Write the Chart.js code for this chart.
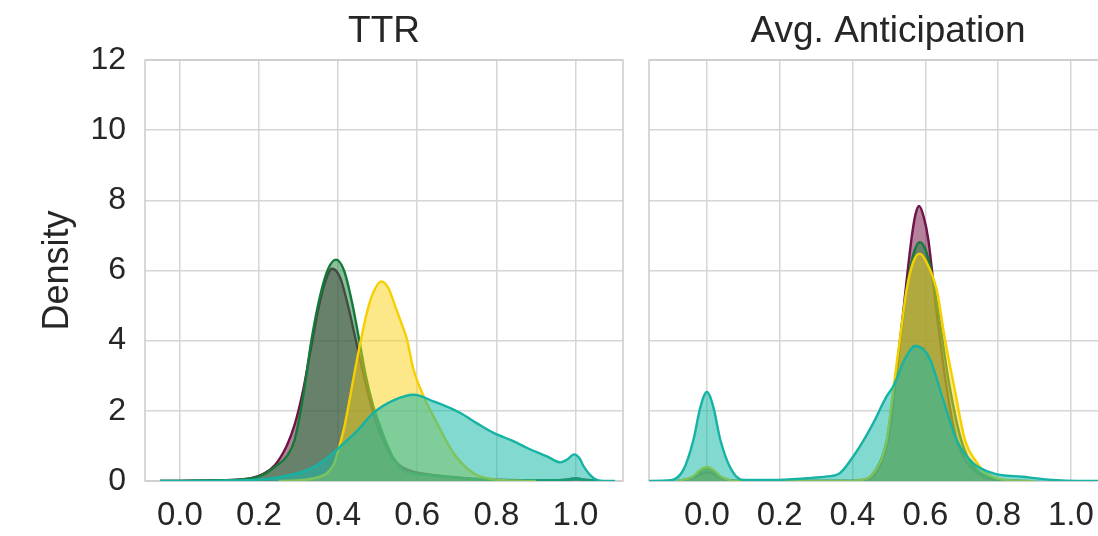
<!DOCTYPE html>
<html>
<head>
<meta charset="utf-8">
<script src="https://cdn.jsdelivr.net/npm/chart.js@4.4.0/dist/chart.umd.min.js"></script>
<style>
  html, body { margin: 0; padding: 0; background: #fff; overflow: hidden; width: 1098px; height: 536px; }
  #panel-ttr { position: absolute; left: 0; top: 0; width: 640px; height: 536px; }
  #panel-ant { position: absolute; left: 640px; top: 0; width: 500px; height: 536px; }
</style>
</head>
<body>
<div id="panel-ttr"><canvas id="chartTTR"></canvas></div>
<div id="panel-ant"><canvas id="chartAnt"></canvas></div>
<script>
// ============================================================================
// Curvas de densidad (KDE): TTR y Avg. Anticipation
// ============================================================================

const titulos = ["TTR", "Avg. Anticipation"];
const ticksX = [0.0, 0.2, 0.4, 0.6, 0.8, 1.0];
const ticksY = [0, 2, 4, 6, 8, 10, 12];

// --- Panel TTR ---
const ttrX_morado = [-0.05, 0.10, 0.18, 0.21, 0.24, 0.27, 0.29, 0.31, 0.33, 0.35, 0.365, 0.385, 0.405, 0.425, 0.445, 0.465, 0.485, 0.505, 0.525, 0.55, 0.58, 0.62, 0.68, 0.76, 0.90, 0.97, 1.00, 1.03, 1.06];
const ttrY_morado = [0.00, 0.02, 0.08, 0.20, 0.45, 1.0, 1.6, 2.5, 3.7, 4.9, 5.6, 6.05, 5.8, 5.0, 4.0, 3.0, 2.1, 1.4, 0.9, 0.5, 0.3, 0.2, 0.12, 0.05, 0.02, 0.03, 0.07, 0.03, 0.00];

const ttrX_verde = [-0.05, 0.10, 0.18, 0.21, 0.24, 0.27, 0.29, 0.31, 0.333, 0.355, 0.375, 0.395, 0.415, 0.435, 0.453, 0.47, 0.489, 0.505, 0.519, 0.54, 0.565, 0.60, 0.65, 0.72, 0.80, 0.90, 0.97, 1.00, 1.03, 1.06];
const ttrY_verde = [0.00, 0.02, 0.07, 0.18, 0.40, 0.70, 1.17, 2.3, 4.04, 5.3, 6.05, 6.31, 6.0, 5.1, 4.04, 3.0, 2.13, 1.6, 1.17, 0.65, 0.31, 0.2, 0.15, 0.07, 0.03, 0.02, 0.03, 0.07, 0.03, 0.00];

const ttrX_amarillo = [0.25, 0.30, 0.34, 0.371, 0.39, 0.403, 0.415, 0.426, 0.44, 0.458, 0.475, 0.49, 0.509, 0.527, 0.544, 0.56, 0.574, 0.59, 0.616, 0.65, 0.692, 0.742, 0.78, 0.82, 0.90];
const ttrY_amarillo = [0.00, 0.02, 0.08, 0.22, 0.5, 0.98, 1.5, 2.13, 3.0, 4.04, 4.9, 5.4, 5.69, 5.5, 4.99, 4.5, 4.04, 3.2, 2.42, 1.65, 0.79, 0.22, 0.07, 0.02, 0.00];

const ttrX_turquesa = [-0.05, 0.10, 0.18, 0.236, 0.28, 0.321, 0.36, 0.405, 0.45, 0.489, 0.54, 0.591, 0.641, 0.709, 0.75, 0.793, 0.84, 0.878, 0.928, 0.962, 0.98, 0.996, 1.01, 1.021, 1.046, 1.07, 1.10];
const ttrY_turquesa = [0.00, 0.01, 0.03, 0.08, 0.17, 0.31, 0.55, 0.98, 1.45, 1.94, 2.3, 2.46, 2.27, 1.94, 1.65, 1.37, 1.15, 0.94, 0.70, 0.53, 0.62, 0.76, 0.65, 0.41, 0.08, 0.00, 0.00];

// --- Panel Avg. Anticipation ---
const antX_morado = [-0.08, -0.04, -0.02, 0.0, 0.02, 0.04, 0.08, 0.40, 0.43, 0.465, 0.50, 0.52, 0.538, 0.562, 0.573, 0.583, 0.595, 0.608, 0.63, 0.655, 0.685, 0.71, 0.74, 0.79, 0.86];
const antY_morado = [0.00, 0.08, 0.18, 0.25, 0.18, 0.08, 0.00, 0.00, 0.02, 0.25, 1.3, 3.0, 4.7, 6.9, 7.6, 7.84, 7.55, 6.9, 4.9, 2.9, 1.2, 0.6, 0.25, 0.03, 0.00];

const antX_verde = [-0.08, -0.04, -0.02, 0.0, 0.02, 0.04, 0.08, 0.39, 0.43, 0.46, 0.495, 0.515, 0.533, 0.552, 0.57, 0.585, 0.602, 0.62, 0.64, 0.665, 0.695, 0.72, 0.75, 0.80, 0.88];
const antY_verde = [0.00, 0.10, 0.25, 0.35, 0.25, 0.10, 0.00, 0.00, 0.03, 0.25, 1.2, 2.7, 4.2, 5.7, 6.55, 6.81, 6.55, 5.8, 4.5, 2.8, 1.3, 0.6, 0.25, 0.03, 0.00];

const antX_amarillo = [-0.08, -0.04, -0.02, 0.0, 0.02, 0.04, 0.08, 0.38, 0.42, 0.457, 0.494, 0.512, 0.53, 0.549, 0.567, 0.585, 0.605, 0.631, 0.654, 0.681, 0.709, 0.74, 0.768, 0.82, 0.90];
const antY_amarillo = [0.00, 0.12, 0.30, 0.40, 0.30, 0.12, 0.00, 0.00, 0.03, 0.22, 1.17, 2.6, 4.04, 5.47, 6.25, 6.48, 6.2, 5.47, 4.04, 2.6, 1.17, 0.55, 0.22, 0.03, 0.00];

const antX_turquesa = [-0.16, -0.10, -0.065, -0.037, -0.018, 0.0, 0.018, 0.037, 0.068, 0.10, 0.18, 0.274, 0.33, 0.365, 0.402, 0.43, 0.457, 0.494, 0.512, 0.545, 0.572, 0.595, 0.613, 0.649, 0.686, 0.732, 0.787, 0.868, 0.95, 1.02, 1.15];
const antY_turquesa = [0.00, 0.02, 0.31, 1.17, 2.1, 2.54, 2.1, 1.17, 0.31, 0.03, 0.03, 0.08, 0.13, 0.22, 0.70, 1.15, 1.65, 2.42, 2.7, 3.5, 3.85, 3.75, 3.47, 2.32, 1.17, 0.5, 0.22, 0.12, 0.03, 0.00, 0.00];

// Colores (línea y relleno) por serie
const colores = {
  morado:   { linea: "#6e1446", relleno: "rgba(120, 25, 75, 0.55)", orden: 4 },
  verde:    { linea: "#137a3a", relleno: "rgba(25, 130, 60, 0.5)", orden: 3 },
  amarillo: { linea: "#f7cf00", relleno: "rgba(250, 210, 20, 0.5)", orden: 2 },
  turquesa: { linea: "#16b3a3", relleno: "rgba(25, 185, 170, 0.55)", orden: 1 }
};

const fuente = "'Liberation Sans', Arial, sans-serif";
const colorTexto = "#262626";
const colorGrilla = "#d6d6d6";

function armarSerie(xs, ys, nombre) {
  const c = colores[nombre];
  return {
    label: nombre,
    data: xs.map((x, i) => ({ x: x, y: ys[i] })),
    borderColor: c.linea,
    backgroundColor: c.relleno,
    fill: "origin",
    borderWidth: 2.4,
    pointRadius: 0,
    cubicInterpolationMode: "monotone",
    order: c.orden
  };
}

// Plugin: marco del área y título de cada panel centrado sobre el área
const pluginPanel = {
  id: "pluginPanel",
  beforeDatasetsDraw(chart) {
    const { ctx, chartArea } = chart;
    ctx.save();
    ctx.strokeStyle = "#cccccc";
    ctx.lineWidth = 1.5;
    ctx.strokeRect(chartArea.left, chartArea.top, chartArea.right - chartArea.left, chartArea.bottom - chartArea.top);
    ctx.restore();
  },
  afterDraw(chart, args, opts) {
    const { ctx, chartArea } = chart;
    ctx.save();
    ctx.font = "37px " + fuente;
    ctx.fillStyle = colorTexto;
    ctx.textAlign = "center";
    ctx.textBaseline = "middle";
    ctx.fillText(opts.texto, (chartArea.left + chartArea.right) / 2, 32);
    ctx.restore();
  }
};

function opcionesPanel(minX, maxX, conEjeY, texto) {
  return {
    responsive: true,
    maintainAspectRatio: false,
    animation: false,
    layout: { padding: { top: 60, left: conEjeY ? 0 : 9, right: conEjeY ? 17 : 13, bottom: 0 } },
    plugins: {
      legend: { display: false },
      tooltip: { enabled: false },
      pluginPanel: { texto: texto }
    },
    scales: {
      x: {
        type: "linear",
        min: minX,
        max: maxX,
        afterFit: (s) => { s.height = 55; },
        afterBuildTicks: (s) => { s.ticks = ticksX.map((v) => ({ value: v })); },
        ticks: {
          includeBounds: false,
          callback: (v) => Number(v).toFixed(1),
          font: { family: fuente, size: 33 },
          color: colorTexto,
          padding: 15,
          maxRotation: 0,
          autoSkip: false
        },
        grid: { color: colorGrilla, lineWidth: 1.5, drawTicks: false },
        border: { display: false }
      },
      y: {
        min: 0,
        max: 12,
        afterFit: (s) => { s.width = conEjeY ? 145 : 0; },
        afterBuildTicks: (s) => { s.ticks = ticksY.map((v) => ({ value: v })); },
        ticks: {
          display: conEjeY,
          font: { family: fuente, size: 32 },
          color: colorTexto,
          padding: 19
        },
        title: {
          display: conEjeY,
          text: "Density",
          font: { family: fuente, size: 36 },
          color: colorTexto,
          padding: { top: 36, bottom: 0 }
        },
        grid: { color: colorGrilla, lineWidth: 1.5, drawTicks: false },
        border: { display: false }
      }
    }
  };
}

new Chart(document.getElementById("chartTTR").getContext("2d"), {
  type: "line",
  data: {
    datasets: [
      armarSerie(ttrX_morado, ttrY_morado, "morado"),
      armarSerie(ttrX_verde, ttrY_verde, "verde"),
      armarSerie(ttrX_amarillo, ttrY_amarillo, "amarillo"),
      armarSerie(ttrX_turquesa, ttrY_turquesa, "turquesa")
    ]
  },
  options: opcionesPanel(-0.088, 1.12, true, titulos[0]),
  plugins: [pluginPanel]
});

new Chart(document.getElementById("chartAnt").getContext("2d"), {
  type: "line",
  data: {
    datasets: [
      armarSerie(antX_morado, antY_morado, "morado"),
      armarSerie(antX_verde, antY_verde, "verde"),
      armarSerie(antX_amarillo, antY_amarillo, "amarillo"),
      armarSerie(antX_turquesa, antY_turquesa, "turquesa")
    ]
  },
  options: opcionesPanel(-0.159, 1.154, false, titulos[1]),
  plugins: [pluginPanel]
});
</script>
</body>
</html>
